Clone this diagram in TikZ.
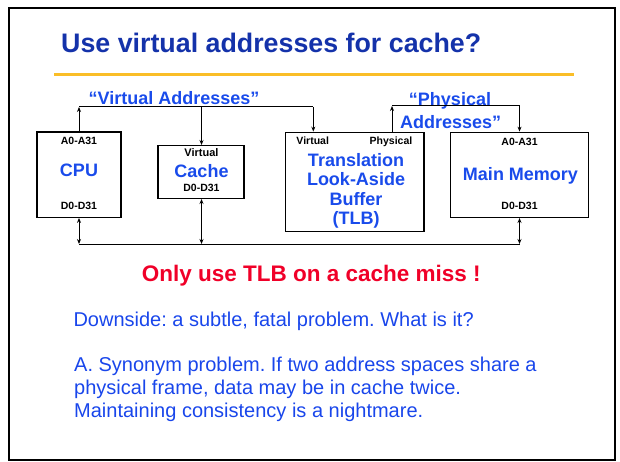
\documentclass[tikz,border=0pt]{standalone}
\usepackage{fontspec}
\setmainfont{Liberation Sans}
\frenchspacing
\usetikzlibrary{positioning}
\usetikzlibrary {arrows.meta}
\definecolor{titleblue}{RGB}{20,50,170}
\definecolor{labelblue}{RGB}{25,75,235}
\definecolor{textblue}{RGB}{25,70,235}
\definecolor{alertred}{RGB}{240,0,40}
\definecolor{rulegold}{RGB}{250,190,40}
\tikzset{unitbox/.style={rectangle,draw=black,line width=1.4pt,fill=white,
inner sep=0pt}}
\tikzset{unitname/.style={text=labelblue,font=\fontsize{18}{19}\selectfont\bfseries,
inner sep=0pt,text height=12.9pt,text depth=0pt}}
\tikzset{pinname/.style={text=black,font=\fontsize{10.5}{11}\selectfont\bfseries,
inner sep=0pt,text height=7.5pt,text depth=0pt}}
\tikzset{bodytext/.style={text=textblue,font=\fontsize{20}{22}\selectfont,
inner sep=0pt,anchor=base west}}
\tikzset{busline/.style={line width=1pt}}
\tikzset{busarrow/.style={line width=1pt,-{Stealth[length=5pt,width=4pt]}}}
\tikzset{busboth/.style={line width=1pt,{Stealth[length=5pt,width=4pt]}-{Stealth[length=5pt,width=4pt]}}}

\begin{document}
\begin{tikzpicture}[x=1pt,y=-1pt]
        \useasboundingbox (0,0) rectangle (620,462);
        \draw[line width=2pt] (9,8) rectangle (615,460);

        \node[anchor=base west,text=titleblue,inner sep=0pt,
              font=\fontsize{26.8}{28}\selectfont\bfseries] (title) at (61,53) {Use virtual addresses for cache?};
        \draw[rulegold,line width=3pt] (54,75) -- (574,75);

        \node[unitbox,minimum width=84pt,minimum height=85pt] (cpu) at (79,174.7) {};
        \node[unitbox,minimum width=86pt,minimum height=52.6pt] (cache) at (201,172) {};
        \node[unitbox,minimum width=138.3pt,minimum height=99.4pt] (tlb) at (354.9,182) {};
        \node[unitbox,minimum width=137.6pt,minimum height=85pt] (mem) at (519.5,174.8) {};

        \node[pinname] (cpuA) at (79,140.7) {A0-A31};
        \node[unitname] (cpuname) at (79,170) {CPU};
        \node[pinname] (cpuD) at (79,206) {D0-D31};

        \node[pinname,font=\fontsize{11}{12}\selectfont\bfseries] (cacheV) at (201.5,153) {Virtual};
        \node[unitname] (cachename) at (201.5,170.7) {Cache};
        \node[pinname] (cacheD) at (201.5,187.3) {D0-D31};

        \node[pinname] (tlbV) at (312.7,140.7) {Virtual};
        \node[pinname] (tlbP) at (391,140.7) {Physical};
        \node[unitname] (tlbA) at (356,160) {Translation};
        \node[unitname] (tlbB) [below=6pt of tlbA] {Look-Aside};
        \node[unitname] (tlbC) [below=6pt of tlbB] {Buffer};
        \node[unitname] (tlbD) [below=6pt of tlbC] {(TLB)};

        \node[pinname] (memA) at (519.5,142) {A0-A31};
        \node[unitname] (memname) at (520.5,174) {Main Memory};
        \node[pinname] (memD) at (519.5,206) {D0-D31};

        \node[unitname] (vlabel) at (174,98.3) {“Virtual Addresses”};
        \node[unitname] (plabelA) at (450,99.3) {“Physical};
        \node[unitname] (plabelB) at (450.7,121.7) {Addresses”};

        % virtual address bus
        \coordinate (vbusL) at (79,107);
        \coordinate (vbusC) at (201.5,107);
        \coordinate (vbusR) at (313.3,107);
        \draw[busline] (vbusL) -- (vbusR);
        \draw[busarrow] (cpu.north) -- (vbusL);
        \draw[busarrow] (vbusC) -- (vbusC |- cache.north);
        \draw[busarrow] (vbusR) -- (vbusR |- tlb.north);

        % physical address bus
        \coordinate (pbusL) at (392,106);
        \coordinate (pbusR) at (519.5,106);
        \draw[busarrow] (pbusL |- tlb.north) -- (pbusL);
        \draw[busline] (pbusL) -- (pbusR);
        \draw[busarrow] (pbusR) -- (mem.north);

        % data bus
        \coordinate (dbusL) at (79,244);
        \coordinate (dbusC) at (201.5,244);
        \coordinate (dbusR) at (519.5,244);
        \draw[busline] (dbusL) -- (dbusR);
        \draw[busboth] (cpu.south) -- (dbusL);
        \draw[busboth] (dbusC |- cache.south) -- (dbusC);
        \draw[busboth] (mem.south) -- (dbusR);

        \node[anchor=base west,text=alertred,inner sep=0pt,
              font=\fontsize{22.5}{24}\selectfont\bfseries] (miss) at (141.7,281.7) {Only use TLB on a cache miss !};

        \node[bodytext] (downside) at (73.3,326.7) {Downside: a subtle, fatal problem. What is it?};
        \node[bodytext] (ansA) at (74,371.7) {A. Synonym problem. If two address spaces share a};
        \node[bodytext] (ansB) at (74,394.4) {physical frame, data may be in cache twice.};
        \node[bodytext] (ansC) at (74,417) {Maintaining consistency is a nightmare.};

\end{tikzpicture}
\end{document}
